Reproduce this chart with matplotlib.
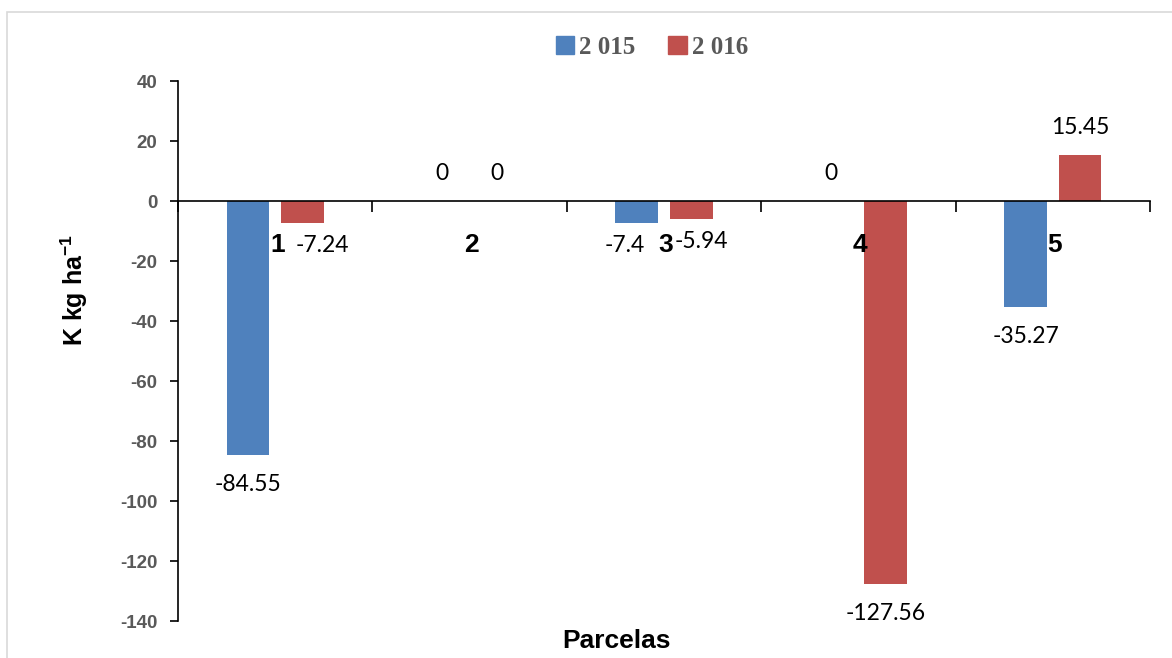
import numpy as np
import matplotlib
matplotlib.use('Agg')
import matplotlib.pyplot as plt
from matplotlib.patches import Rectangle, Patch

# balance de K por parcela
parcelas = ['1', '2', '3', '4', '5']
k_2015 = [-84.55, 0, -7.4, 0, -35.27]
k_2016 = [-7.24, 0, -5.94, -127.56, 15.45]
series = ['2 015', '2 016']
colores = ['#4F81BD', '#C0504D']
yticks = list(range(-140, 41, 20))

plt.rcParams['font.family'] = ['Lato', 'DejaVu Sans']
plt.rcParams['mathtext.fontset'] = 'custom'
plt.rcParams['mathtext.bf'] = 'Liberation Sans:bold'
plt.rcParams['mathtext.rm'] = 'Liberation Sans:bold'
negrita = {'family': 'Liberation Sans', 'weight': 'bold'}

fig = plt.figure(figsize=(11.72, 6.58), dpi=100)
fig.patches.append(Rectangle((7/1172, -0.05), 1.0, 1 - 12/658 + 0.05,
                             transform=fig.transFigure, fill=False,
                             edgecolor='#d9d9d9', linewidth=1.2))
ax = fig.add_axes([178/1172, 1 - 621/658, 972/1172, 540/658])

x = np.arange(len(parcelas))
w = 0.22
off = 0.14
# corrimiento lateral (px) de etiquetas cortas que chocan con el número de parcela
corrimiento = {(0, 1): 20, (2, 0): -12, (2, 1): 10}
for j, (vals, dx, col) in enumerate([(k_2015, -off, colores[0]), (k_2016, off, colores[1])]):
    ax.bar(x + dx, vals, width=w, color=col, zorder=2)
    for i, (xi, v) in enumerate(zip(x, vals)):
        sx = corrimiento.get((i, j), 0)
        if v < 0:
            dy = -19 if v < -20 else -12
            ax.annotate(f'{v:g}', (xi + dx, v), xytext=(sx, dy), textcoords='offset pixels',
                        ha='center', va='top', fontsize=16.5)
        else:
            ax.annotate(f'{v:g}', (xi + dx, v), xytext=(sx, 17), textcoords='offset pixels',
                        ha='center', va='bottom', fontsize=16.5)

for xi, p in zip(x, parcelas):
    ax.annotate(p, (xi, 0), xytext=(2, -44), textcoords='offset pixels',
                ha='center', va='center', fontsize=19, **negrita)

ax.set_xlim(-0.5, 4.5)
ax.set_ylim(-140, 40)
ax.set_yticks(yticks)
ax.set_yticklabels([str(t) for t in yticks], fontsize=13.5, color='#595959', **negrita)
ax.set_xticks(np.arange(-0.5, 5, 1))
ax.set_xticklabels([])
ax.tick_params(axis='x', direction='out', length=8, width=1.2)
ax.tick_params(axis='y', direction='out', length=6, width=1.2, pad=9)

for s in ['top', 'right']:
    ax.spines[s].set_visible(False)
ax.spines['bottom'].set_position(('data', 0))
ax.spines['bottom'].set_linewidth(1.2)
ax.spines['left'].set_linewidth(1.2)

ax.set_ylabel('K kg ha$^{-1}$', fontsize=18, **negrita)
ax.yaxis.set_label_coords(-88/972, (621 - 290)/540)
fig.text(616/1172, 1 - 641/658, 'Parcelas', ha='center', va='center',
         fontsize=19, **negrita)

handles = [Patch(color=c) for c in colores]
leg = fig.legend(handles, series, loc='center', bbox_to_anchor=(652/1172, 1 - 47/658),
                 ncol=2, frameon=False, handlelength=0.75, handleheight=0.75,
                 handletextpad=0.2, columnspacing=1.3,
                 prop={'family': 'Liberation Serif', 'weight': 'bold', 'size': 18})
for t in leg.get_texts():
    t.set_color('#595959')

fig.savefig('out.png', dpi=100)
